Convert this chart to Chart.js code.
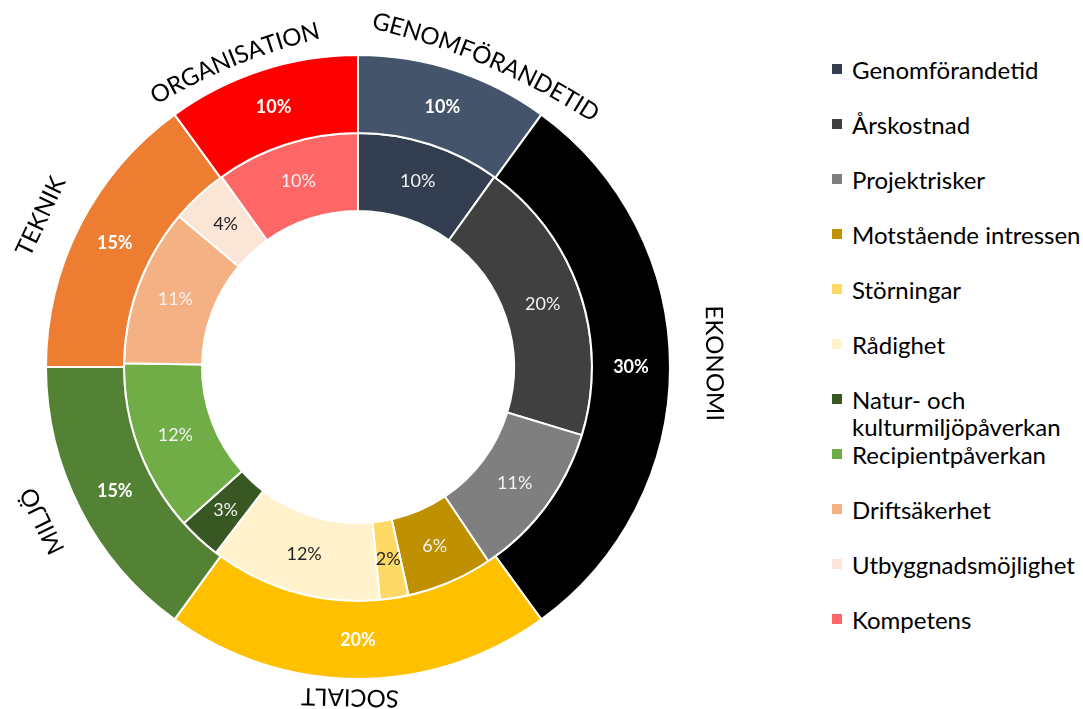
<!DOCTYPE html>
<html>
<head>
<meta charset="utf-8">
<script src="https://cdn.jsdelivr.net/npm/chart.js@4.4.0/dist/chart.umd.min.js"></script>
<style>
  body { margin: 0; background: #fff; width: 1083px; height: 709px; overflow: hidden; font-family: Lato, sans-serif; }
  #wrap { position: absolute; left: 0; top: 0; width: 780px; height: 709px; }
  #legend { position: absolute; left: 832px; top: 56px; width: 251px; }
  .item { display: flex; align-items: flex-start; height: 55px; }
  .box { width: 10px; height: 10px; margin-top: 8px; margin-right: 10px; flex: none; }
  .txt { font-size: 24px; line-height: 27px; color: #000; max-width: 240px; }
</style>
</head>
<body>
<div id="wrap"><canvas id="donut"></canvas></div>
<div id="legend"></div>
<script>
// inner ring (sub criteria)
const innerLabels = ["Genomförandetid", "Årskostnad", "Projektrisker", "Motstående intressen", "Störningar",
  "Rådighet", "Natur- och kulturmiljöpåverkan", "Recipientpåverkan", "Driftsäkerhet", "Utbyggnadsmöjlighet", "Kompetens"];
const innerValues = [10, 20, 11, 6, 2, 12, 3, 12, 11, 4, 10];
const innerColors = ["#333F50", "#404040", "#7F7F7F", "#BF9000", "#FFD966", "#FFF2CC",
  "#385723", "#70AD47", "#F4B183", "#FBE5D6", "#FF6666"];
const innerTextColors = ["#F2F2F2", "#F2F2F2", "#F2F2F2", "#F2F2F2", "#262626", "#262626",
  "#F2F2F2", "#F2F2F2", "#F2F2F2", "#262626", "#F2F2F2"];

// outer ring (main criteria)
const outerLabels = ["GENOMFÖRANDETID", "EKONOMI", "SOCIALT", "MILJÖ", "TEKNIK", "ORGANISATION"];
const outerValues = [10, 30, 20, 15, 15, 10];
const outerColors = ["#44546A", "#000000", "#FFC000", "#548235", "#ED7D31", "#FF0000"];

// how the category names sit around the ring: angle shift (deg), radius, curve radius
const catStyle = [
  { shift: 5, r: 336, rc: 700 },
  { shift: -0.6, r: 357, rc: 1e5 },
  { shift: 1.4, r: 331, rc: 1e5 },
  { shift: 1, r: 352, rc: 1e5 },
  { shift: -1.6, r: 352, rc: 1e5 },
  { shift: -4, r: 334, rc: 600 }
];

// legend
const legend = document.getElementById("legend");
innerLabels.forEach((lab, i) => {
  const item = document.createElement("div");
  item.className = "item";
  item.innerHTML = '<span class="box" style="background:' + innerColors[i] + '"></span><span class="txt">' + lab + "</span>";
  legend.appendChild(item);
});

function drawArcText(ctx, text, cx, cy, r, theta, rc, capH) {
  // theta is clockwise from the top, radians
  const ox = cx + (r - rc) * Math.sin(theta);
  const oy = cy - (r - rc) * Math.cos(theta);
  const chars = [...text];
  const widths = chars.map(ch => ctx.measureText(ch).width);
  const total = widths.reduce((a, b) => a + b, 0);
  let a = theta - total / (2 * rc);
  chars.forEach((ch, k) => {
    const phi = a + widths[k] / (2 * rc);
    ctx.save();
    ctx.translate(ox + rc * Math.sin(phi), oy - rc * Math.cos(phi));
    ctx.rotate(phi);
    ctx.fillText(ch, 0, capH / 2);
    ctx.restore();
    a += widths[k] / rc;
  });
}

const ringLabels = {
  id: "ringLabels",
  afterDatasetsDraw(chart) {
    const ctx = chart.ctx;
    chart.data.datasets.forEach((ds, di) => {
      const meta = chart.getDatasetMeta(di);
      meta.data.forEach((arc, i) => {
        const p = arc.getProps(["x", "y", "startAngle", "endAngle", "innerRadius", "outerRadius"], true);
        const mid = (p.startAngle + p.endAngle) / 2;
        const r = (p.innerRadius + p.outerRadius) / 2;
        ctx.save();
        ctx.font = di === 0 ? "bold 18px Lato" : "18px Lato";
        ctx.fillStyle = ds.textColors[i];
        ctx.textAlign = "center";
        ctx.textBaseline = "middle";
        ctx.fillText(ds.data[i] + "%", p.x + Math.cos(mid) * r, p.y + Math.sin(mid) * r);
        ctx.restore();

        if (di === 0) {
          const st = catStyle[i];
          const theta = mid + Math.PI / 2 + st.shift * Math.PI / 180;
          ctx.save();
          ctx.font = "24px Lato";
          ctx.fillStyle = "#000";
          ctx.textAlign = "center";
          ctx.textBaseline = "alphabetic";
          drawArcText(ctx, ds.categories[i], p.x, p.y, st.r, theta, st.rc, 24 * 0.72);
          ctx.restore();
        }
      });
    });
  }
};

new Chart(document.getElementById("donut"), {
  type: "doughnut",
  data: {
    labels: innerLabels,
    datasets: [
      {
        data: outerValues,
        categories: outerLabels,
        backgroundColor: outerColors,
        textColors: outerValues.map(() => "#FFFFFF"),
        borderColor: "#FFFFFF",
        borderWidth: 2
      },
      {
        data: innerValues,
        backgroundColor: innerColors,
        textColors: innerTextColors,
        borderColor: "#FFFFFF",
        borderWidth: 2
      }
    ]
  },
  options: {
    responsive: true,
    maintainAspectRatio: false,
    animation: false,
    cutout: "50%",
    layout: { padding: { left: 45, right: 109, top: 54, bottom: 29 } },
    plugins: {
      legend: { display: false },
      tooltip: { enabled: false }
    }
  },
  plugins: [ringLabels]
});
</script>
</body>
</html>
